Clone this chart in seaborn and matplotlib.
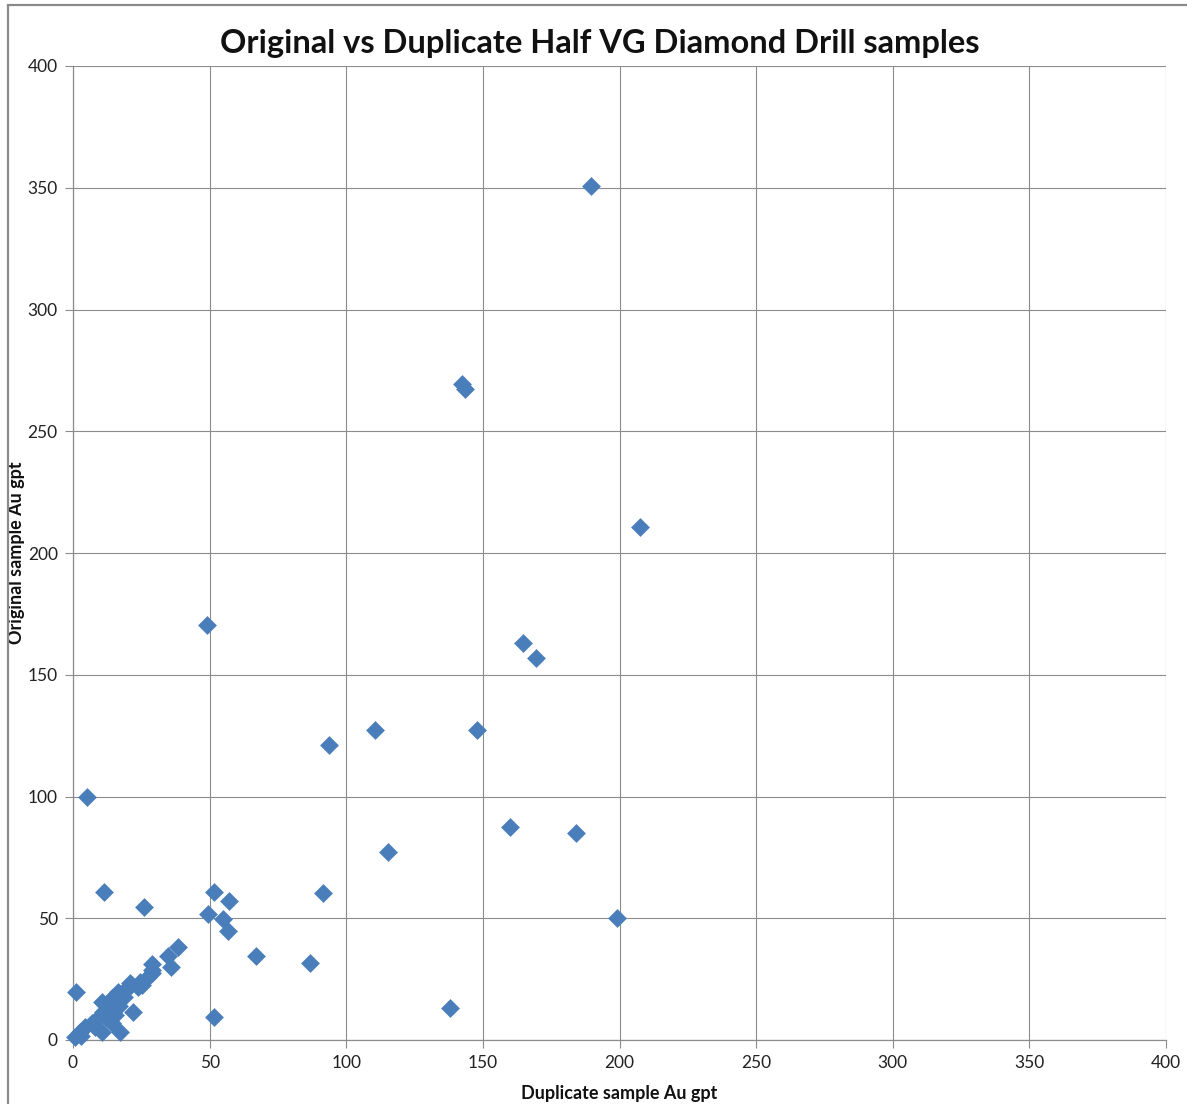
import matplotlib
matplotlib.use("Agg")
import matplotlib.pyplot as plt
import seaborn as sns
import pandas as pd
from matplotlib.patches import Rectangle

# Duplicate half-core assay (x) vs original assay (y), Au g/t
duplicate_au = [
    189.6, 142.4, 143.5, 207.5, 49.0, 164.7, 169.4, 110.5, 147.9, 93.7,
    5.1, 159.9, 184.1, 115.3, 11.3, 51.6, 91.5, 57.1, 199.1, 26.0,
    49.4, 54.9, 56.7, 38.4, 34.8, 67.0, 35.9, 86.7, 28.9, 28.9,
    27.5, 23.8, 25.2, 21.2, 19.4, 22.0, 51.6, 138.0, 1.1,
    0.7, 2.6, 4.4, 6.8, 10.5, 9.3, 11.1, 12.8, 10.5, 14.1,
    17.2, 15.4, 14.1, 16.6, 20.9, 24.5, 28.8, 3.0, 8.0, 12.0,
    17.0, 18.5,
]
original_au = [
    350.7, 269.4, 267.4, 210.7, 170.4, 163.0, 156.9, 127.3, 127.3, 121.1,
    99.8, 87.5, 85.0, 77.2, 60.8, 60.8, 60.4, 57.1, 50.1, 54.6,
    51.7, 49.7, 44.8, 38.2, 34.5, 34.5, 30.0, 31.6, 31.2, 27.5,
    25.9, 21.8, 22.6, 22.6, 20.9, 11.5, 9.4, 13.1, 19.7,
    1.2, 3.3, 5.3, 7.0, 3.4, 9.0, 11.6, 13.7, 15.7, 7.0,
    3.4, 10.3, 17.1, 19.8, 23.4, 23.9, 28.7, 1.5, 5.5, 9.5,
    14.0, 17.5,
]
axis_ticks = [0, 50, 100, 150, 200, 250, 300, 350, 400]

df = pd.DataFrame({"Duplicate": duplicate_au, "Original": original_au})

sns.set_theme(style="white")
plt.rcParams["font.family"] = ["Lato", "DejaVu Sans"]

W, H = 1187, 1104
fig = plt.figure(figsize=(W / 100, H / 100), dpi=100)
ax = fig.add_axes([73 / W, (H - 1040) / H, (1166 - 73) / W, (1040 - 66) / H])

grid_col = "#8c8c8c"
sns.scatterplot(data=df, x="Duplicate", y="Original", ax=ax, marker="D",
                s=92, color="#4a7ebb", linewidth=0, zorder=3, clip_on=False)

ax.set_xlim(0, 400)
ax.set_ylim(0, 400)
ax.set_xticks(axis_ticks)
ax.set_yticks(axis_ticks)
ax.set_xticklabels([str(t) for t in axis_ticks])
ax.set_yticklabels([str(t) for t in axis_ticks])
ax.grid(True, color=grid_col, linewidth=0.8, zorder=0)
ax.set_axisbelow(True)
for side in ["top", "right"]:
    ax.spines[side].set_visible(False)
for side in ["left", "bottom"]:
    ax.spines[side].set_color(grid_col)
    ax.spines[side].set_linewidth(0.9)
ax.tick_params(axis="both", direction="out", length=6, width=0.8, color=grid_col,
               labelsize=12.5, labelcolor="#222222", pad=5, left=True, bottom=True)

ax.set_xlabel("Duplicate sample Au gpt", fontsize=13, fontweight="bold",
              color="#111111", labelpad=10)
ax.set_ylabel("Original sample Au gpt", fontsize=13, fontweight="bold",
              color="#111111")
ax.yaxis.set_label_coords(-0.0435, 0.5)

fig.text(600 / W, 1 - 43 / H, "Original vs Duplicate Half VG Diamond Drill samples",
         ha="center", va="center", fontsize=23.5, fontweight="bold", color="#111111")

# chart-area frame
fig.patches.append(Rectangle((8 / W, -0.1), 1.2, (H - 5) / H + 0.1,
                             transform=fig.transFigure, fill=False,
                             edgecolor="#8a8a8a", linewidth=1.6))

fig.savefig("out.png", dpi=100, facecolor="white")
